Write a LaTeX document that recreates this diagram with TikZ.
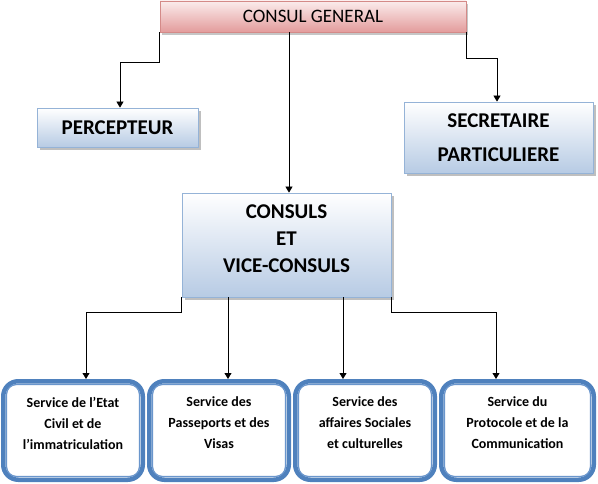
\documentclass[tikz,border=0pt]{standalone}
\usepackage{fontspec}
\setmainfont{Carlito}
\usetikzlibrary{arrows.meta,shadows}

\definecolor{pinkTop}{HTML}{FBECEC}
\definecolor{pinkBot}{HTML}{E39C9C}
\definecolor{pinkLine}{HTML}{D48A88}
\definecolor{blueTop}{HTML}{FFFFFF}
\definecolor{blueBot}{HTML}{B7CBE4}
\definecolor{blueLine}{HTML}{95B3D7}
\definecolor{servBlue}{HTML}{4F81BD}
\definecolor{servInner}{HTML}{6A96CC}

\begin{document}
\begin{tikzpicture}[x=1pt,y=-1pt]
    \tikzstyle{every node}=[font=\fontsize{19}{22}\selectfont, align=center, inner sep=0pt]
    \tikzstyle{headbox}=[draw=pinkLine, line width=0.6pt, top color=pinkTop, bottom color=pinkBot,
        drop shadow={shadow xshift=2pt, shadow yshift=-3pt, opacity=0.45, fill=gray}]
    \tikzstyle{bluebox}=[draw=blueLine, line width=0.8pt, top color=blueTop, bottom color=blueBot,
        font=\fontsize{21}{24}\selectfont\bfseries,
        drop shadow={shadow xshift=3pt, shadow yshift=-3pt, opacity=0.5, fill=gray}]
    \tikzstyle{servbox}=[draw=servBlue, line width=4.5pt, rounded corners=15pt, fill=white,
        minimum height=98.5pt, text depth=15pt, font=\fontsize{14}{21}\selectfont\bfseries]
    \tikzstyle{servline}=[draw=servInner, line width=1.3pt, rounded corners=10pt]
    \tikzstyle{arr}=[-{Triangle[length=6pt,width=7pt]}, line width=0.8pt]

      \useasboundingbox (0,0) rectangle (598,484);

      % top of the chart
      \node[headbox, minimum width=306pt, minimum height=31pt] (cg) at (313,16.5) {CONSUL GENERAL};

      \node[bluebox, minimum width=161pt, minimum height=39pt] (perc) at (117.5,127.5) {PERCEPTEUR};
      \node[bluebox, minimum width=189pt, minimum height=71pt, font=\fontsize{21}{34}\selectfont\bfseries]
          (sec) at (498.5,137.5) {SECRETAIRE\\PARTICULIERE};

      \node[bluebox, minimum width=209pt, minimum height=104pt, font=\fontsize{21}{27}\selectfont\bfseries,
          text depth=12pt] (cv) at (286.5,245) {CONSULS\\ET\\VICE-CONSULS};

      % services
      \node[servbox, minimum width=139.5pt] (s1) at (73,430.5) {Service de l’Etat\\Civil et de\\l’immatriculation};
      \node[servbox, minimum width=139.5pt] (s2) at (219,430.5) {Service des\\Passeports et des\\Visas};
      \node[servbox, minimum width=139.5pt] (s3) at (365,430.5) {Service des\\affaires Sociales\\et culturelles};
      \node[servbox, minimum width=152.5pt] (s4) at (517.5,430.5) {Service du\\Protocole et de la\\Communication};

      \foreach \s in {s1,s2,s3,s4}
        \draw[servline] ([shift={(5.5,-5.5)}]\s.south west) rectangle ([shift={(-5.5,5.5)}]\s.north east);

      % connectors
      \draw[arr] (cg.south west) -- ++(0,30) -| ([xshift=2.5pt]perc.north);
      \draw[arr] (cg.south east) -- ++(0,26) -| ([xshift=-1.5pt]sec.north);
      \draw[arr] ([xshift=2.5pt]cv.north |- cg.south) -- ([xshift=2.5pt]cv.north);

      \draw[arr] (cv.south west) -- ++(0,15) -| ([xshift=13pt]s1.north);
      \draw[arr] ([xshift=-58.5pt]cv.south) -- ([xshift=-58.5pt]cv.south |- s2.north);
      \draw[arr] ([xshift=56.5pt]cv.south) -- ([xshift=56.5pt]cv.south |- s3.north);
      \draw[arr] (cv.south east) -- ++(0,15) -| ([xshift=-21.5pt]s4.north);

\end{tikzpicture}
\end{document}
